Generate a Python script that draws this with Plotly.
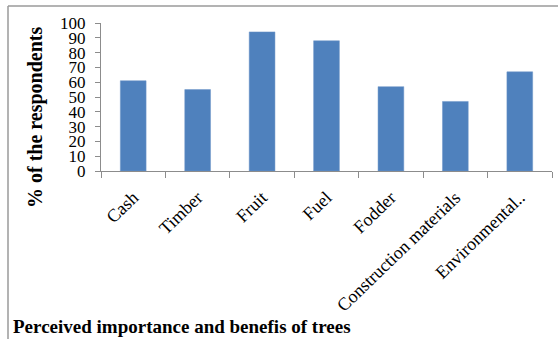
import plotly.graph_objects as go

categories = ["Cash", "Timber", "Fruit", "Fuel", "Fodder", "Construction materials", "Environmental.."]
values = [61, 55, 94, 88, 57, 47, 67]
y_ticks = list(range(0, 101, 10))

W, H = 558, 339
L, R, T, B = 101, 6, 23, 168
pw, ph = W - L - R, H - T - B

def px_x(px):
    return (px - L) / pw

def px_y(py):
    return (H - B - py) / ph

serif = "Liberation Serif, Times New Roman, serif"

fig = go.Figure(go.Bar(
    x=categories, y=values,
    marker=dict(color="#4F81BD", line=dict(color="#6f97c9", width=0.5)),
    width=0.4,
))

fig.update_layout(
    width=W, height=H,
    margin=dict(l=L, r=R, t=T, b=B, pad=0),
    paper_bgcolor="white", plot_bgcolor="white",
    showlegend=False,
    font=dict(family=serif, color="black"),
    xaxis=dict(
        type="category",
        showline=True, linecolor="#8c8c8c", linewidth=1,
        ticks="outside", tickson="boundaries", ticklen=6, tickcolor="#8c8c8c",
        tickangle=-44, tickfont=dict(family=serif, size=18, color="black"),
        ticklabelstandoff=8,
        showgrid=False, range=[-0.5, len(categories) - 0.5],
    ),
    yaxis=dict(
        range=[0, 100], tickvals=y_ticks,
        showline=True, linecolor="#8c8c8c", linewidth=1,
        ticks="outside", ticklen=5, tickcolor="#8c8c8c",
        tickfont=dict(family=serif, size=17, color="black"),
        ticklabelstandoff=6,
        showgrid=False, zeroline=False,
    ),
    shapes=[
        dict(type="line", xref="paper", yref="paper",
             x0=px_x(8), y0=px_y(6), x1=px_x(W + 2), y1=px_y(6),
             line=dict(color="#9a9a9a", width=1.5)),
        dict(type="line", xref="paper", yref="paper",
             x0=px_x(8), y0=px_y(6), x1=px_x(8), y1=px_y(H + 2),
             line=dict(color="#9a9a9a", width=1.5)),
    ],
    annotations=[
        dict(text="<b>% of the respondents</b>", xref="paper", yref="paper",
             x=px_x(35), y=px_y(117), textangle=-90, showarrow=False,
             xanchor="center", yanchor="middle",
             font=dict(family=serif, size=20, color="black")),
        dict(text="<b>Perceived importance and benefis of trees</b>", xref="paper", yref="paper",
             x=px_x(11), y=px_y(326), showarrow=False,
             xanchor="left", yanchor="middle",
             font=dict(family=serif, size=19, color="black")),
    ],
)

fig.write_html("out.html")
